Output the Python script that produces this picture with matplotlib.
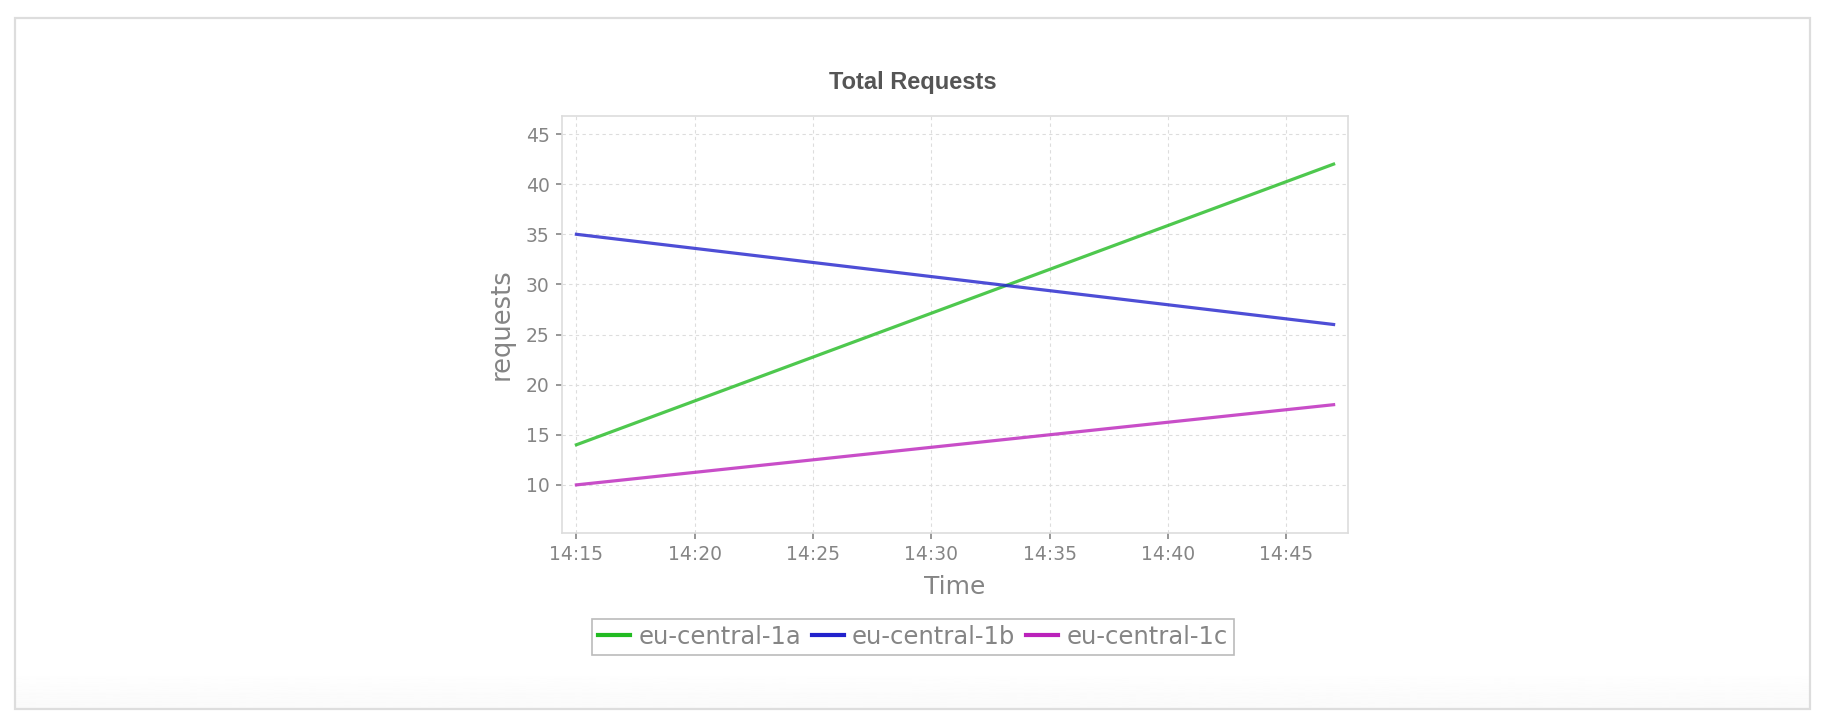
import datetime as dt
import numpy as np
import matplotlib
matplotlib.use("Agg")
import matplotlib.pyplot as plt
import matplotlib.dates as mdates
from matplotlib.patches import Rectangle

### data
times = [dt.datetime(2024, 1, 1, 14, 15), dt.datetime(2024, 1, 1, 14, 47)]
zone_names = ["eu-central-1a", "eu-central-1b", "eu-central-1c"]
zone_a = [14, 42]
zone_b = [35, 26]
zone_c = [10, 18]
zone_colors = ["#22bb22", "#2222cc", "#bb22bb"]

grey = "#858585"

fig = plt.figure(figsize=(18.24, 7.23), dpi=100)

# outer panel with a faint shade at the bottom
shade = fig.add_axes([15 / 1824, 1 - 709 / 723, 1795 / 1824, 40 / 723], zorder=-2)
shade.imshow(np.linspace(1.0, 0.98, 50).reshape(-1, 1), cmap="gray", vmin=0, vmax=1,
             aspect="auto", extent=[0, 1, 0, 1])
shade.axis("off")
fig.patches.append(Rectangle((15 / 1824, 1 - 709 / 723), 1795 / 1824, 691 / 723,
                             transform=fig.transFigure, fill=False,
                             edgecolor="#dddddd", linewidth=1.6, zorder=-1))

ax = fig.add_axes([562 / 1824, 1 - 533 / 723, 786 / 1824, 417 / 723])

for vals, name, col in zip([zone_a, zone_b, zone_c], zone_names, zone_colors):
    ax.plot(times, vals, color=col, alpha=0.8, linewidth=2.3, label=name)

ax.set_ylim(5.2, 46.8)
ax.margins(x=0.019)
ax.set_yticks([10, 15, 20, 25, 30, 35, 40, 45])
ax.xaxis.set_major_locator(mdates.MinuteLocator(byminute=range(0, 60, 5)))
ax.xaxis.set_major_formatter(mdates.DateFormatter("%H:%M"))

ax.grid(True, color="#dddddd", linestyle=(0, (3, 3)), linewidth=0.8)
for s in ax.spines.values():
    s.set_color("#dddddd")
    s.set_linewidth(1.2)
ax.tick_params(colors=grey, labelsize=13.5, length=4, width=1.2, pad=5)

ax.set_xlabel("Time", fontsize=18, color=grey, labelpad=7.5)
ax.set_ylabel("requests", fontsize=18.5, color=grey, labelpad=8)

fig.text(0.5007, 1 - 89.3 / 723, "Total Requests", ha="center", va="baseline",
         fontsize=17, fontweight="bold", color="#555555", family="Liberation Sans")

leg = fig.legend(loc="center", bbox_to_anchor=(913 / 1824, 1 - 637 / 723), ncol=3,
                 fontsize=17.5, frameon=True, fancybox=False, framealpha=1,
                 edgecolor="#bbbbbb", handlelength=1.3, handletextpad=0.35,
                 columnspacing=0.45, borderpad=0.25)
leg.get_frame().set_linewidth(1.2)
for h in leg.legend_handles:
    h.set_alpha(1)
    h.set_linewidth(3)
for t in leg.get_texts():
    t.set_color(grey)

fig.savefig("out.png", dpi=100)
